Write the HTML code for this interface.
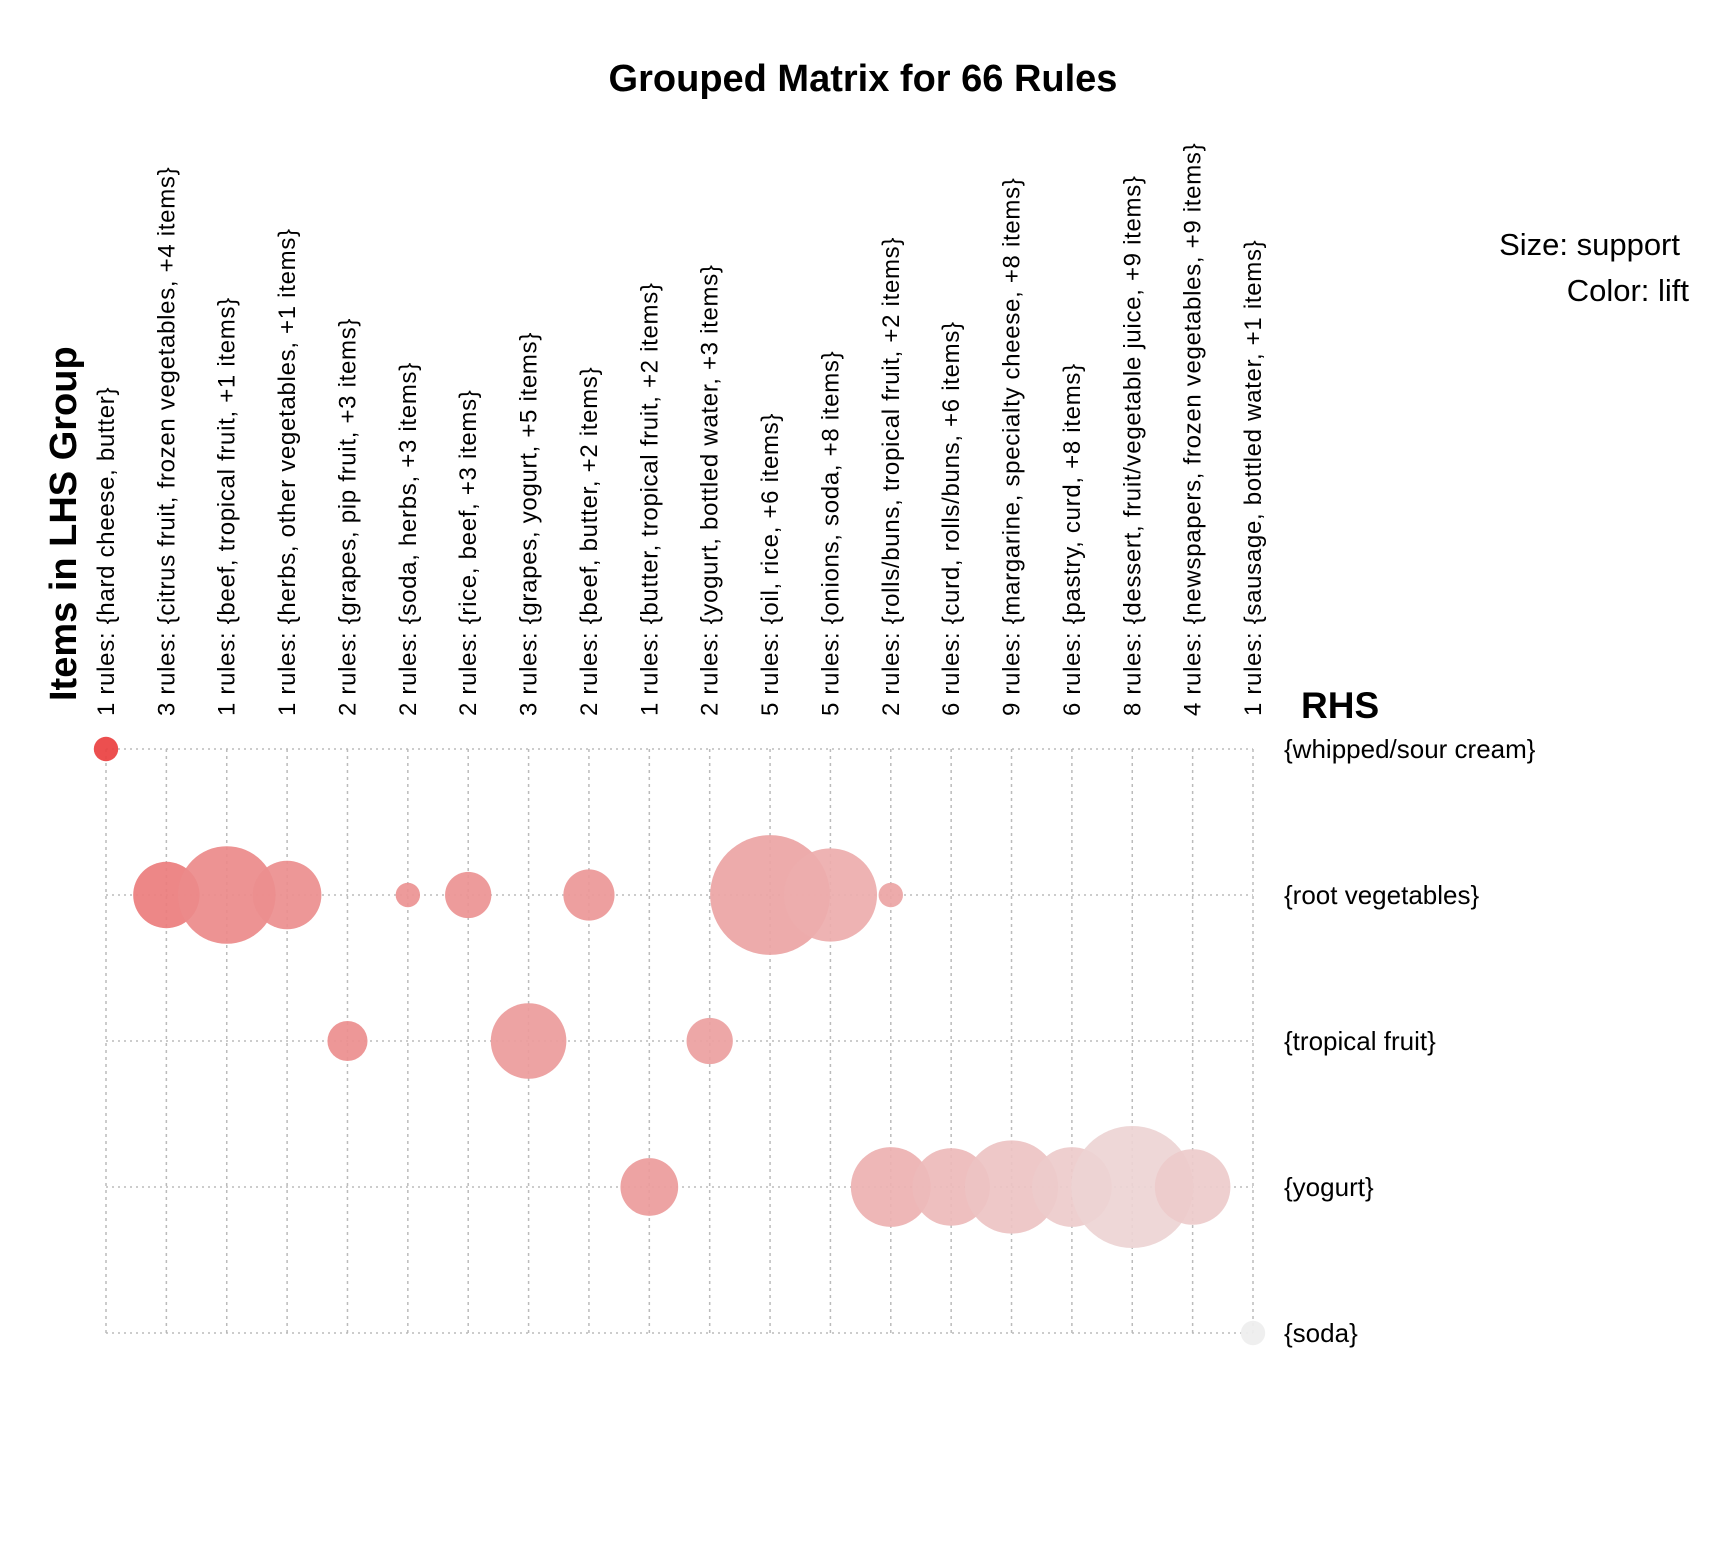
<!DOCTYPE html>
<html><head><meta charset="utf-8"><style>
body{margin:0;background:#fff}
svg text{font-family:"Liberation Sans",sans-serif}
</style></head><body>
<svg id="c" width="1728" height="1555" viewBox="0 0 1728 1555" xmlns="http://www.w3.org/2000/svg">
<text x="863" y="91" text-anchor="middle" font-size="38" font-weight="bold">Grouped Matrix for 66 Rules</text>
<text x="1680" y="255" text-anchor="end" font-size="31">Size: support</text>
<text x="1689" y="301" text-anchor="end" font-size="31">Color: lift</text>
<text transform="translate(76,701) rotate(-90)" font-size="38" font-weight="bold">Items in LHS Group</text>
<text x="1301" y="718" font-size="37" font-weight="bold">RHS</text>
<g id="grid"></g><g id="marks"></g><g id="labels"></g>
</svg>
<script>
const lhsGroups=["1 rules: {hard cheese, butter}","3 rules: {citrus fruit, frozen vegetables, +4 items}","1 rules: {beef, tropical fruit, +1 items}","1 rules: {herbs, other vegetables, +1 items}","2 rules: {grapes, pip fruit, +3 items}","2 rules: {soda, herbs, +3 items}","2 rules: {rice, beef, +3 items}","3 rules: {grapes, yogurt, +5 items}","2 rules: {beef, butter, +2 items}","1 rules: {butter, tropical fruit, +2 items}","2 rules: {yogurt, bottled water, +3 items}","5 rules: {oil, rice, +6 items}","5 rules: {onions, soda, +8 items}","2 rules: {rolls/buns, tropical fruit, +2 items}","6 rules: {curd, rolls/buns, +6 items}","9 rules: {margarine, specialty cheese, +8 items}","6 rules: {pastry, curd, +8 items}","8 rules: {dessert, fruit/vegetable juice, +9 items}","4 rules: {newspapers, frozen vegetables, +9 items}","1 rules: {sausage, bottled water, +1 items}"];
const rhsItems=["{whipped/sour cream}","{root vegetables}","{tropical fruit}","{yogurt}","{soda}"];
const pointCol=[0,1,2,3,5,6,8,11,12,13,4,7,10,9,13,14,15,16,17,18,19];
const pointRow=[0,1,1,1,1,1,1,1,1,1,2,2,2,3,3,3,3,3,3,3,4];
const support=[0.0010,0.0074,0.0160,0.0079,0.0010,0.0036,0.0044,0.0241,0.0146,0.0010,0.0027,0.0096,0.0036,0.0056,0.0107,0.0101,0.0146,0.0107,0.0250,0.0096,0.0010];
const lift=[3.0,2.3,2.15,2.1,2.05,2.05,2.0,1.85,1.75,1.85,2.1,1.95,1.9,1.95,1.7,1.6,1.5,1.4,1.3,1.4,1.0];
const NS="http://www.w3.org/2000/svg";
const x0=106,x1=1253,y0=749,y1=1333;
const xs=i=>x0+i*(x1-x0)/(lhsGroups.length-1);
const ys=j=>y0+j*(y1-y0)/(rhsItems.length-1);
const rs=s=>12.2*Math.sqrt(s/0.001);
function col(l){const t=Math.max(0,Math.min(1,(l-1)/2));const a=[238,238,238],b=[234,64,64];return "rgb("+a.map((v,k)=>Math.round(v+(b[k]-v)*t)).join(",")+")";}
const grid=document.getElementById('grid'),marks=document.getElementById('marks'),labels=document.getElementById('labels');
lhsGroups.forEach((g,i)=>{
 const l=document.createElementNS(NS,'line');
 
 
 l.setAttribute('x1',xs(i));l.setAttribute('x2',xs(i));l.setAttribute('y1',y0);l.setAttribute('y2',y1);
 l.setAttribute('stroke','#bbb');l.setAttribute('stroke-width','1.5');l.setAttribute('stroke-dasharray','3,4');grid.appendChild(l);
 const t=document.createElementNS(NS,'text');
 
 
 t.setAttribute('transform','translate('+(xs(i)+8)+',716) rotate(-90)');t.setAttribute('font-size','24');t.setAttribute('letter-spacing','0.7');t.textContent=g;labels.appendChild(t);
});
rhsItems.forEach((r,j)=>{
 const l=document.createElementNS(NS,'line');
 
 
 l.setAttribute('x1',x0);l.setAttribute('x2',x1);l.setAttribute('y1',ys(j));l.setAttribute('y2',ys(j));
 l.setAttribute('stroke','#bbb');l.setAttribute('stroke-width','1.5');l.setAttribute('stroke-dasharray','2,4');grid.appendChild(l);
 const t=document.createElementNS(NS,'text');
 
 
 t.setAttribute('x',1284);t.setAttribute('y',ys(j)+9);t.setAttribute('font-size','26');t.textContent=r;labels.appendChild(t);
});
support.forEach((s,k)=>{
 const c=document.createElementNS(NS,'circle');
 
 
 c.setAttribute('cx',xs(pointCol[k]));c.setAttribute('cy',ys(pointRow[k]));c.setAttribute('r',rs(s));
 c.setAttribute('fill',col(lift[k]));c.setAttribute('fill-opacity','0.92');marks.appendChild(c);
});
</script>
</body></html>
